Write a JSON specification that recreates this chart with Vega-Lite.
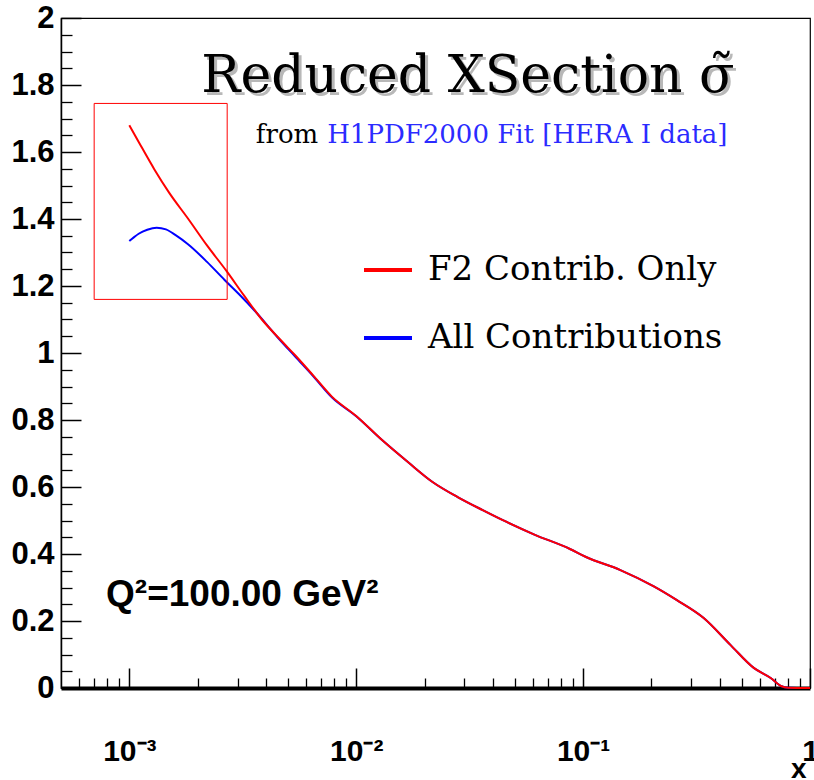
{
  "$schema": "https://vega.github.io/schema/vega-lite/v6.json",
  "width": 749,
  "height": 670,
  "autosize": {"type": "none"},
  "padding": {"left": 61, "top": 18, "right": 4, "bottom": 92},
  "background": "white",
  "config": {"view": {"stroke": "black", "strokeWidth": 1.2}, "axis": {"grid": false}},
  "datasets": {
    "curves": [
      {"x": 0.001, "y": 1.334, "series": "All Contributions"},
      {"x": 0.00105, "y": 1.346, "series": "All Contributions"},
      {"x": 0.0011, "y": 1.356, "series": "All Contributions"},
      {"x": 0.0012, "y": 1.368, "series": "All Contributions"},
      {"x": 0.00132, "y": 1.374, "series": "All Contributions"},
      {"x": 0.00145, "y": 1.369, "series": "All Contributions"},
      {"x": 0.0016, "y": 1.352, "series": "All Contributions"},
      {"x": 0.00182, "y": 1.324, "series": "All Contributions"},
      {"x": 0.0022, "y": 1.272, "series": "All Contributions"},
      {"x": 0.00263, "y": 1.218, "series": "All Contributions"},
      {"x": 0.0031, "y": 1.170, "series": "All Contributions"},
      {"x": 0.00357, "y": 1.126, "series": "All Contributions"},
      {"x": 0.0045, "y": 1.047, "series": "All Contributions"},
      {"x": 0.00537, "y": 0.990, "series": "All Contributions"},
      {"x": 0.0065, "y": 0.929, "series": "All Contributions"},
      {"x": 0.00783, "y": 0.867, "series": "All Contributions"},
      {"x": 0.01, "y": 0.811, "series": "All Contributions"},
      {"x": 0.013, "y": 0.740, "series": "All Contributions"},
      {"x": 0.017, "y": 0.673, "series": "All Contributions"},
      {"x": 0.0217, "y": 0.615, "series": "All Contributions"},
      {"x": 0.028, "y": 0.570, "series": "All Contributions"},
      {"x": 0.0361, "y": 0.531, "series": "All Contributions"},
      {"x": 0.0443, "y": 0.501, "series": "All Contributions"},
      {"x": 0.061, "y": 0.458, "series": "All Contributions"},
      {"x": 0.0875, "y": 0.415, "series": "All Contributions"},
      {"x": 0.103, "y": 0.391, "series": "All Contributions"},
      {"x": 0.146, "y": 0.352, "series": "All Contributions"},
      {"x": 0.204, "y": 0.304, "series": "All Contributions"},
      {"x": 0.258, "y": 0.263, "series": "All Contributions"},
      {"x": 0.34, "y": 0.209, "series": "All Contributions"},
      {"x": 0.447, "y": 0.128, "series": "All Contributions"},
      {"x": 0.565, "y": 0.060, "series": "All Contributions"},
      {"x": 0.671, "y": 0.030, "series": "All Contributions"},
      {"x": 0.745, "y": 0.006, "series": "All Contributions"},
      {"x": 0.8, "y": 0.001, "series": "All Contributions"},
      {"x": 1.0, "y": 0.0, "series": "All Contributions"},
      {"x": 0.001, "y": 1.680, "series": "F2 Contrib. Only"},
      {"x": 0.0011, "y": 1.630, "series": "F2 Contrib. Only"},
      {"x": 0.00129, "y": 1.548, "series": "F2 Contrib. Only"},
      {"x": 0.0015, "y": 1.478, "series": "F2 Contrib. Only"},
      {"x": 0.00182, "y": 1.400, "series": "F2 Contrib. Only"},
      {"x": 0.0022, "y": 1.321, "series": "F2 Contrib. Only"},
      {"x": 0.00268, "y": 1.245, "series": "F2 Contrib. Only"},
      {"x": 0.0032, "y": 1.172, "series": "F2 Contrib. Only"},
      {"x": 0.00384, "y": 1.100, "series": "F2 Contrib. Only"},
      {"x": 0.0047, "y": 1.035, "series": "F2 Contrib. Only"},
      {"x": 0.00537, "y": 0.994, "series": "F2 Contrib. Only"},
      {"x": 0.0065, "y": 0.931, "series": "F2 Contrib. Only"},
      {"x": 0.00783, "y": 0.869, "series": "F2 Contrib. Only"},
      {"x": 0.01, "y": 0.812, "series": "F2 Contrib. Only"},
      {"x": 0.013, "y": 0.740, "series": "F2 Contrib. Only"},
      {"x": 0.017, "y": 0.673, "series": "F2 Contrib. Only"},
      {"x": 0.0217, "y": 0.615, "series": "F2 Contrib. Only"},
      {"x": 0.028, "y": 0.570, "series": "F2 Contrib. Only"},
      {"x": 0.0361, "y": 0.531, "series": "F2 Contrib. Only"},
      {"x": 0.0443, "y": 0.501, "series": "F2 Contrib. Only"},
      {"x": 0.061, "y": 0.458, "series": "F2 Contrib. Only"},
      {"x": 0.0875, "y": 0.415, "series": "F2 Contrib. Only"},
      {"x": 0.103, "y": 0.391, "series": "F2 Contrib. Only"},
      {"x": 0.146, "y": 0.352, "series": "F2 Contrib. Only"},
      {"x": 0.204, "y": 0.304, "series": "F2 Contrib. Only"},
      {"x": 0.258, "y": 0.263, "series": "F2 Contrib. Only"},
      {"x": 0.34, "y": 0.209, "series": "F2 Contrib. Only"},
      {"x": 0.447, "y": 0.128, "series": "F2 Contrib. Only"},
      {"x": 0.565, "y": 0.060, "series": "F2 Contrib. Only"},
      {"x": 0.671, "y": 0.030, "series": "F2 Contrib. Only"},
      {"x": 0.745, "y": 0.006, "series": "F2 Contrib. Only"},
      {"x": 0.8, "y": 0.001, "series": "F2 Contrib. Only"},
      {"x": 1.0, "y": 0.0, "series": "F2 Contrib. Only"}
    ]
  },
  "layer": [
    {
      "data": {"name": "curves"},
      "transform": [{"filter": "datum.series === 'All Contributions'"}],
      "mark": {"type": "line", "strokeWidth": 2, "interpolate": "monotone"},
      "encoding": {
        "x": {"field": "x", "type": "quantitative",
          "scale": {"type": "log", "domain": [0.0005, 1], "nice": false},
          "axis": {"orient": "bottom", "values": [0.0006, 0.0007, 0.0008, 0.0009, 0.002, 0.003, 0.004, 0.005, 0.006, 0.007, 0.008, 0.009, 0.02, 0.03, 0.04, 0.05, 0.06, 0.07, 0.08, 0.09, 0.2, 0.3, 0.4, 0.5, 0.6, 0.7, 0.8, 0.9],
            "tickSize": -10, "tickWidth": 1.3, "tickColor": "black", "labels": false, "domain": false, "title": null, "grid": false}},
        "y": {"field": "y", "type": "quantitative",
          "scale": {"domain": [0, 2], "nice": false},
          "axis": {"orient": "left", "values": [0.05, 0.1, 0.15, 0.25, 0.3, 0.35, 0.45, 0.5, 0.55, 0.65, 0.7, 0.75, 0.85, 0.9, 0.95, 1.05, 1.1, 1.15, 1.25, 1.3, 1.35, 1.45, 1.5, 1.55, 1.65, 1.7, 1.75, 1.85, 1.9, 1.95],
            "tickSize": -11, "tickWidth": 1.3, "tickColor": "black", "labels": false, "domain": false, "title": null, "grid": false}},
        "color": {"field": "series", "type": "nominal",
          "scale": {"domain": ["F2 Contrib. Only", "All Contributions"], "range": ["#ff0000", "#0000ff"]},
          "legend": {"title": null, "orient": "none", "legendX": 301, "legendY": 226, "symbolType": "stroke", "symbolSize": 2304, "symbolStrokeWidth": 4, "labelFont": "DejaVu Serif", "labelFontSize": 34, "labelColor": "black", "labelOffset": 14, "rowPadding": 25, "labelLimit": 600, "padding": 0}}
      }
    },
    {
      "data": {"name": "curves"},
      "transform": [{"filter": "datum.series === 'F2 Contrib. Only'"}],
      "mark": {"type": "line", "strokeWidth": 2, "interpolate": "monotone"},
      "encoding": {
        "x": {"field": "x", "type": "quantitative",
          "scale": {"type": "log", "domain": [0.0005, 1], "nice": false},
          "axis": {"orient": "bottom", "values": [0.001, 0.01, 0.1, 1], "tickSize": -20, "tickWidth": 1.5, "tickColor": "black",
            "domainColor": "black", "domainWidth": 4,
            "labelExpr": "datum.value >= 0.5 ? '1' : datum.value >= 0.05 ? '10⁻¹' : datum.value >= 0.005 ? '10⁻²' : '10⁻³'",
            "labelFont": "Liberation Sans", "labelFontWeight": "bold", "labelFontSize": 30, "labelColor": "black",
            "labelPadding": 92, "labelBaseline": "alphabetic", "labelFlush": false, "labelOverlap": false, "labelBound": false,
            "title": "x", "titleFont": "Liberation Sans", "titleFontWeight": "bold", "titleFontSize": 28, "titleColor": "black",
            "titleAnchor": "end", "titleAlign": "right", "titleBaseline": "alphabetic", "titleX": 745, "titleY": 89, "grid": false}},
        "y": {"field": "y", "type": "quantitative",
          "scale": {"domain": [0, 2], "nice": false},
          "axis": {"orient": "left", "values": [0, 0.2, 0.4, 0.6, 0.8, 1, 1.2, 1.4, 1.6, 1.8, 2], "format": "~g", "tickSize": -20, "tickWidth": 1.5, "tickColor": "black",
            "domainColor": "black", "domainWidth": 1.5,
            "labelFont": "Liberation Sans", "labelFontWeight": "bold", "labelFontSize": 31, "labelColor": "black",
            "labelPadding": 27, "labelFlush": false, "labelOverlap": false, "labelBound": false, "title": null, "grid": false}},
        "color": {"field": "series", "type": "nominal",
          "scale": {"domain": ["F2 Contrib. Only", "All Contributions"], "range": ["#ff0000", "#0000ff"]},
          "legend": {"title": null, "orient": "none", "legendX": 301, "legendY": 226, "symbolType": "stroke", "symbolSize": 2304, "symbolStrokeWidth": 4, "labelFont": "DejaVu Serif", "labelFontSize": 34, "labelColor": "black", "labelOffset": 14, "rowPadding": 25, "labelLimit": 600, "padding": 0}}
      }
    },
    {
      "data": {"values": [{"box": "zoom"}]},
      "mark": {"type": "rect", "fillOpacity": 0, "stroke": "#ff0000", "strokeWidth": 1},
      "encoding": {
        "x": {"datum": 0.0007, "axis": null},
        "x2": {"datum": 0.0027},
        "y": {"datum": 1.16, "axis": null},
        "y2": {"datum": 1.745}
      }
    },
    {
      "data": {"values": [{"t": "Reduced XSection σ̃"}]},
      "mark": {"type": "text", "font": "DejaVu Serif", "fontSize": 52, "align": "right", "baseline": "alphabetic", "color": "#b8b8b8", "dx": 3, "dy": 3},
      "encoding": {"x": {"datum": 0.465, "axis": null}, "y": {"datum": 1.779, "axis": null}, "text": {"field": "t"}}
    },
    {
      "data": {"values": [{"t": "Reduced XSection σ̃"}]},
      "mark": {"type": "text", "font": "DejaVu Serif", "fontSize": 52, "align": "right", "baseline": "alphabetic", "color": "black"},
      "encoding": {"x": {"datum": 0.465, "axis": null}, "y": {"datum": 1.779, "axis": null}, "text": {"field": "t"}}
    },
    {
      "data": {"values": [{"t": "from"}]},
      "mark": {"type": "text", "font": "DejaVu Serif", "fontSize": 26, "align": "right", "baseline": "alphabetic", "color": "black"},
      "encoding": {"x": {"datum": 0.0068, "axis": null}, "y": {"datum": 1.627, "axis": null}, "text": {"field": "t"}}
    },
    {
      "data": {"values": [{"t": "H1PDF2000 Fit [HERA I data]"}]},
      "mark": {"type": "text", "font": "DejaVu Serif", "fontSize": 26, "align": "left", "baseline": "alphabetic", "color": "#2b2bff"},
      "encoding": {"x": {"datum": 0.00745, "axis": null}, "y": {"datum": 1.627, "axis": null}, "text": {"field": "t"}}
    },
    {
      "data": {"values": [{"t": "Q²=100.00 GeV²"}]},
      "mark": {"type": "text", "font": "Liberation Sans", "fontWeight": "bold", "fontSize": 37, "align": "left", "baseline": "alphabetic", "color": "black"},
      "encoding": {"x": {"datum": 0.00079, "axis": null}, "y": {"datum": 0.245, "axis": null}, "text": {"field": "t"}}
    }
  ],
  "resolve": {"axis": {"x": "independent", "y": "independent"}}
}
